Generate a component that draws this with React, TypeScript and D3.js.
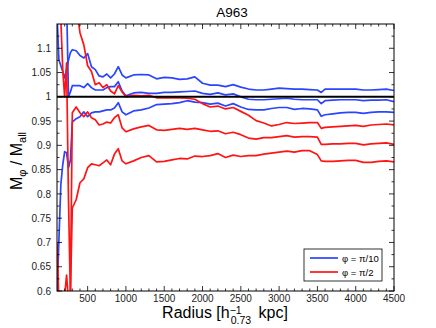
import React from 'react'
import * as d3 from 'd3'

// radius grid [h^-1 kpc]
const radius = [100, 125, 150, 175, 200, 225, 250, 275, 300, 350, 400, 450, 500, 550, 600, 650, 700, 750, 800, 850, 900, 950,
    1000, 1100, 1200, 1300, 1400, 1500, 1600, 1700, 1800, 1900, 2000, 2100, 2200, 2300, 2400, 2500, 2600, 2700, 2800, 2900,
    3000, 3100, 3200, 3300, 3400, 3500, 3550, 3600, 3700, 3800, 3900, 4000, 4100, 4200, 4300, 4400, 4500]

// phi = pi/10 (blue)
const blueUpper = [1.17, 1.076, 1.064, 1.052, 1.039, 1.056, 1.076, 1.091, 1.097, 1.095, 1.085, 1.080, 1.089, 1.062, 1.056, 1.043, 1.041, 1.047, 1.039, 1.047, 1.062, 1.045,
    1.039, 1.045, 1.046, 1.045, 1.037, 1.040, 1.039, 1.036, 1.037, 1.041, 1.028, 1.024, 1.024, 1.021, 1.025, 1.020, 1.016, 1.014, 1.014, 1.016,
    1.018, 1.017, 1.016, 1.016, 1.015, 1.014, 1.009, 1.016, 1.016, 1.016, 1.016, 1.016, 1.014, 1.014, 1.015, 1.016, 1.013]
const blueMid = [1.2, 1.2, 1.2, 1.2, 1.2, 1.2, 1.000, 1.010, 1.023, 1.023, 1.023, 1.019, 1.027, 1.019, 1.014, 1.014, 1.014, 1.019, 1.021, 1.021, 1.031, 1.012,
    1.002, 1.008, 1.009, 1.007, 1.007, 1.009, 1.009, 1.010, 1.011, 1.012, 1.007, 1.005, 1.008, 1.004, 1.006, 1.000, 0.995, 0.994, 0.994, 0.995,
    0.996, 0.997, 0.995, 0.994, 0.994, 0.994, 0.986, 0.992, 0.993, 0.994, 0.994, 0.994, 0.992, 0.993, 0.993, 0.994, 0.990]
const blueLower = [0.59, 0.705, 0.819, 0.860, 0.887, 0.885, 0.854, 0.870, 0.948, 0.955, 0.959, 0.969, 0.959, 0.967, 0.969, 0.969, 0.971, 0.973, 0.973, 0.977, 0.988, 0.969,
    0.963, 0.971, 0.973, 0.977, 0.984, 0.985, 0.986, 0.988, 0.992, 0.989, 0.988, 0.985, 0.987, 0.981, 0.986, 0.979, 0.974, 0.973, 0.973, 0.976,
    0.978, 0.978, 0.974, 0.976, 0.975, 0.973, 0.960, 0.963, 0.965, 0.967, 0.968, 0.968, 0.966, 0.968, 0.969, 0.969, 0.968]

// phi = pi/2 (red)
const redUpper = [1.25, 1.25, 1.25, 1.25, 1.25, 1.25, 1.25, 1.25, 1.25, 1.19, 1.132, 1.107, 1.064, 1.052, 1.025, 1.029, 1.019, 1.025, 1.012, 1.006, 1.023, 1.010,
    1.000, 1.003, 1.002, 1.003, 0.998, 0.998, 0.998, 0.998, 0.997, 0.995, 0.986, 0.979, 0.981, 0.975, 0.978, 0.970, 0.962, 0.951, 0.946, 0.940,
    0.943, 0.947, 0.945, 0.946, 0.947, 0.947, 0.935, 0.937, 0.938, 0.939, 0.940, 0.941, 0.939, 0.942, 0.943, 0.944, 0.942]
const redMid = [1.2, 1.2, 1.16, 1.056, 1.000, 1.070, 0.788, 0.59, 0.967, 0.979, 0.967, 0.959, 0.969, 0.957, 0.953, 0.942, 0.944, 0.948, 0.946, 0.957, 0.963, 0.936,
    0.928, 0.934, 0.938, 0.941, 0.932, 0.931, 0.933, 0.935, 0.933, 0.935, 0.932, 0.929, 0.930, 0.924, 0.927, 0.922, 0.915, 0.913, 0.916, 0.916,
    0.918, 0.920, 0.917, 0.918, 0.918, 0.917, 0.902, 0.902, 0.903, 0.903, 0.904, 0.904, 0.901, 0.903, 0.904, 0.905, 0.902]
const redLower = [0.699, 0.58, 0.57, 0.57, 0.59, 0.633, 0.58, 0.595, 0.771, 0.788, 0.823, 0.831, 0.854, 0.862, 0.860, 0.858, 0.864, 0.870, 0.860, 0.882, 0.893, 0.868,
    0.862, 0.868, 0.875, 0.879, 0.866, 0.867, 0.870, 0.873, 0.872, 0.878, 0.877, 0.879, 0.883, 0.875, 0.880, 0.877, 0.879, 0.879, 0.882, 0.884,
    0.886, 0.888, 0.886, 0.889, 0.889, 0.881, 0.868, 0.867, 0.867, 0.868, 0.869, 0.869, 0.865, 0.865, 0.867, 0.868, 0.866]

const xTicks = [500, 1000, 1500, 2000, 2500, 3000, 3500, 4000, 4500]
const yTicks = ['0.6', '0.65', '0.7', '0.75', '0.8', '0.85', '0.9', '0.95', '1', '1.05', '1.1']

const BLUE = '#2a44ff'
const RED = '#ff1414'
const FONT = 'Liberation Sans, Arial, sans-serif'

export default function App() {
    const width = 436
    const height = 328
    const left = 57, right = 394, top = 24, bottom = 291

    const x = d3.scaleLinear().domain([100, 4500]).range([left, right])
    const y = d3.scaleLinear().domain([0.6, 1.15]).range([bottom, top])

    const line = d3.line<number>()
        .x((d, i) => x(radius[i]))
        .y(d => y(d))

    const series = [
        { vals: blueUpper, color: BLUE },
        { vals: blueMid, color: BLUE },
        { vals: blueLower, color: BLUE },
        { vals: redUpper, color: RED },
        { vals: redMid, color: RED },
        { vals: redLower, color: RED },
    ]

    const xMinor = d3.range(200, 4500, 100).filter(v => v % 500 !== 0)
    const yMinor = d3.range(0.625, 1.15, 0.05)

    return (
        <svg width={width} height={height} style={{ position: 'absolute', left: 0, top: 0, background: '#fff' }}
            fontFamily={FONT}>
            <defs>
                <clipPath id="plot">
                    <rect x={left} y={top} width={right - left} height={bottom - top} />
                </clipPath>
            </defs>
            <rect x={0} y={0} width={width} height={height} fill="#fff" />

            <text x={232} y={17} fontSize={13.5} textAnchor="middle">A963</text>

            <g clipPath="url(#plot)" fill="none" strokeWidth={1.7} strokeLinejoin="round">
                {series.map((s, i) => <path key={i} d={line(s.vals) || ''} stroke={s.color} />)}
                <line x1={left} x2={right} y1={y(1)} y2={y(1)} stroke="#000" strokeWidth={2} />
            </g>

            {/* ticks */}
            <g stroke="#000" strokeWidth={0.8}>
                {xTicks.map(t => (
                    <g key={'xt' + t}>
                        <line x1={x(t)} x2={x(t)} y1={bottom} y2={bottom - 5} />
                        <line x1={x(t)} x2={x(t)} y1={top} y2={top + 5} />
                    </g>
                ))}
                {xMinor.map(t => (
                    <g key={'xm' + t}>
                        <line x1={x(t)} x2={x(t)} y1={bottom} y2={bottom - 2.5} />
                        <line x1={x(t)} x2={x(t)} y1={top} y2={top + 2.5} />
                    </g>
                ))}
                {yTicks.map(t => (
                    <g key={'yt' + t}>
                        <line x1={left} x2={left + 5} y1={y(+t)} y2={y(+t)} />
                        <line x1={right} x2={right - 5} y1={y(+t)} y2={y(+t)} />
                    </g>
                ))}
                {yMinor.map(t => (
                    <g key={'ym' + t}>
                        <line x1={left} x2={left + 2.5} y1={y(t)} y2={y(t)} />
                        <line x1={right} x2={right - 2.5} y1={y(t)} y2={y(t)} />
                    </g>
                ))}
            </g>
            <rect x={left} y={top} width={right - left} height={bottom - top} fill="none" stroke="#000" strokeWidth={1} />

            <g fontSize={10} fill="#222">
                {xTicks.map(t => (
                    <text key={'xl' + t} x={x(t)} y={302} textAnchor="middle">{t}</text>
                ))}
                {yTicks.map(t => (
                    <text key={'yl' + t} x={51} y={y(+t) + 3.6} textAnchor="end">{t}</text>
                ))}
            </g>

            <text x={225} y={318} fontSize={16} textAnchor="middle">
                Radius [h<tspan fontSize={10.5} dy={-4.5}>−1</tspan><tspan fontSize={10.5} dx={-11} dy={10}>0.73</tspan><tspan dy={-5.5} dx={3}> kpc]</tspan>
            </text>

            <text transform="translate(22,161) rotate(-90)" fontSize={16} textAnchor="middle">
                M<tspan fontSize={11} dy={4}>φ</tspan><tspan dy={-4}> / M</tspan><tspan fontSize={11} dy={4}>all</tspan>
            </text>

            <g>
                <rect x={304} y={249} width={78} height={32} fill="#fff" stroke="#000" strokeWidth={0.8} />
                <line x1={310} x2={338} y1={258} y2={258} stroke={BLUE} strokeWidth={1.7} />
                <line x1={310} x2={338} y1={272} y2={272} stroke={RED} strokeWidth={1.7} />
                <text x={342} y={261.5} fontSize={9.5}>φ = π/10</text>
                <text x={342} y={275.5} fontSize={9.5}>φ = π/2</text>
            </g>
        </svg>
    )
}
